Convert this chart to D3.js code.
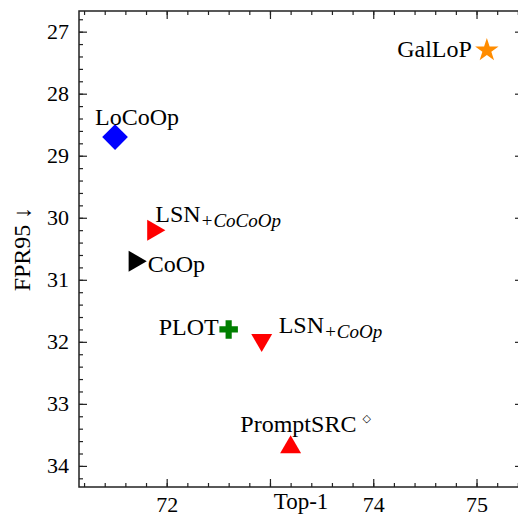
<!DOCTYPE html>
<html>
<head>
<meta charset="utf-8">
<script src="https://cdn.jsdelivr.net/npm/d3@7"></script>
<style>
  body { margin: 0; background: #fff; overflow: hidden; }
  svg { font-family: "Liberation Serif", "Times New Roman", serif; }
</style>
</head>
<body>
<script>
const WIDTH = 518
const HEIGHT = 516

// data
const methods = ['GalLoP', 'LoCoOp', 'LSN+CoCoOp', 'CoOp', 'PLOT', 'LSN+CoOp', 'PromptSRC']
const top1 = [75.1, 71.5, 71.87, 71.69, 72.6, 72.92, 73.2]
const fpr95 = [27.3, 28.7, 30.2, 30.7, 31.8, 31.97, 33.7]
const xTickLabels = [72, 74, 75]
const yTickLabels = [27, 28, 29, 30, 31, 32, 33, 34]

// styles per method
const STYLE = {
    'GalLoP':     { shape: d3.symbolStar, size: 170, rot: 0, color: '#ff8c00' },
    'LoCoOp':     { shape: d3.symbolSquare, size: 330, rot: 45, color: '#0000ff' },
    'LSN+CoCoOp': { shape: d3.symbolTriangle, size: 190, rot: 90, color: '#ff0000' },
    'CoOp':       { shape: d3.symbolTriangle, size: 190, rot: 90, color: '#000000' },
    'PLOT':       { shape: d3.symbolCross, size: 190, rot: 0, color: '#007f00' },
    'LSN+CoOp':   { shape: d3.symbolTriangle, size: 190, rot: 180, color: '#ff0000' },
    'PromptSRC':  { shape: d3.symbolTriangle, size: 190, rot: 0, color: '#ff0000' }
}

// label placement relative to the marker (px)
const LABEL = {
    'GalLoP':     { dx: -15, dy: 7, anchor: 'end', main: 'GalLoP' },
    'LoCoOp':     { dx: 22, dy: -12, anchor: 'middle', main: 'LoCoOp' },
    'LSN+CoCoOp': { dx: 2, dy: -8, anchor: 'start', main: 'LSN', sub: '+CoCoOp' },
    'CoOp':       { dx: 13, dy: 11, anchor: 'start', main: 'CoOp' },
    'PLOT':       { dx: -10, dy: 6, anchor: 'end', main: 'PLOT' },
    'LSN+CoOp':   { dx: 17, dy: -7, anchor: 'start', main: 'LSN', sub: '+CoOp' },
    'PromptSRC':  { dx: 15, dy: -15, anchor: 'middle', main: 'PromptSRC', sup: '\u25C7' }
}

const M = { left: 79, right: 523, top: 11, bottom: 487 }

const x = d3.scaleLinear().domain([71.151, 75.45]).range([M.left, M.right])
const y = d3.scaleLinear().domain([26.667, 34.34]).range([M.top, M.bottom])

const svg = d3.select('body').append('svg')
    .attr('width', WIDTH)
    .attr('height', HEIGHT)

const xMinor = d3.range(71.2, 75.41, 0.2).map(v => +v.toFixed(1))
const yMinor = d3.range(26.8, 34.35, 0.2).map(v => +v.toFixed(1))
const xMajor = d3.range(72, 76, 1)

function styleAxis(g) {
    g.select('.domain').remove()
    g.selectAll('line').attr('stroke', '#222').attr('stroke-width', 1.2)
    g.selectAll('text').attr('font-size', 22).attr('fill', '#000')
        .attr('font-family', '"Liberation Serif", serif')
}

// bottom
svg.append('g').attr('transform', `translate(0,${M.bottom})`)
    .call(d3.axisBottom(x).tickValues(xMinor).tickSize(-4).tickFormat(''))
    .call(styleAxis)
svg.append('g').attr('transform', `translate(0,${M.bottom})`)
    .call(d3.axisBottom(x).tickValues(xMajor).tickSize(-8)
        .tickFormat(d => xTickLabels.includes(d) ? d : '').tickPadding(9))
    .call(styleAxis)
// top
svg.append('g').attr('transform', `translate(0,${M.top})`)
    .call(d3.axisTop(x).tickValues(xMinor).tickSize(-4).tickFormat(''))
    .call(styleAxis)
svg.append('g').attr('transform', `translate(0,${M.top})`)
    .call(d3.axisTop(x).tickValues(xMajor).tickSize(-8).tickFormat(''))
    .call(styleAxis)
// left
svg.append('g').attr('transform', `translate(${M.left},0)`)
    .call(d3.axisLeft(y).tickValues(yMinor).tickSize(-4).tickFormat(''))
    .call(styleAxis)
svg.append('g').attr('transform', `translate(${M.left},0)`)
    .call(d3.axisLeft(y).tickValues(yTickLabels).tickSize(-8).tickPadding(10))
    .call(styleAxis)
// right
svg.append('g').attr('transform', `translate(${M.right},0)`)
    .call(d3.axisRight(y).tickValues(yMinor).tickSize(-4).tickFormat(''))
    .call(styleAxis)
svg.append('g').attr('transform', `translate(${M.right},0)`)
    .call(d3.axisRight(y).tickValues(yTickLabels).tickSize(-8).tickFormat(''))
    .call(styleAxis)

// frame
svg.append('rect')
    .attr('x', M.left).attr('y', M.top)
    .attr('width', M.right - M.left).attr('height', M.bottom - M.top)
    .attr('fill', 'none').attr('stroke', '#222').attr('stroke-width', 1.5)

// axis titles
svg.append('text')
    .attr('x', 301)
    .attr('y', 509)
    .attr('text-anchor', 'middle')
    .attr('font-size', 23)
    .text('Top-1')
svg.append('text')
    .attr('transform', `translate(30,${(M.top + M.bottom) / 2}) rotate(-90)`)
    .attr('text-anchor', 'middle')
    .attr('font-size', 24)
    .text('FPR95 \u2193')

const points = methods.map((m, i) => ({ m, x: top1[i], y: fpr95[i] }))

svg.append('g').selectAll('path')
    .data(points)
    .enter()
    .append('path')
    .attr('d', d => d3.symbol(STYLE[d.m].shape, STYLE[d.m].size)())
    .attr('transform', d => `translate(${x(d.x)},${y(d.y)}) rotate(${STYLE[d.m].rot})`)
    .attr('fill', d => STYLE[d.m].color)

const labels = svg.append('g').selectAll('text')
    .data(points)
    .enter()
    .append('text')
    .attr('x', d => x(d.x) + LABEL[d.m].dx)
    .attr('y', d => y(d.y) + LABEL[d.m].dy)
    .attr('text-anchor', d => LABEL[d.m].anchor)
    .attr('font-size', 24)

labels.append('tspan').text(d => LABEL[d.m].main)
labels.filter(d => LABEL[d.m].sub)
    .append('tspan')
    .attr('dy', 5)
    .attr('font-size', 19)
    .attr('font-style', 'italic')
    .text(d => LABEL[d.m].sub)
labels.filter(d => LABEL[d.m].sup)
    .append('tspan')
    .attr('dx', 6)
    .attr('dy', -10)
    .attr('font-size', 11)
    .attr('font-family', '"DejaVu Sans", sans-serif')
    .text(d => LABEL[d.m].sup)
</script>
</body>
</html>
